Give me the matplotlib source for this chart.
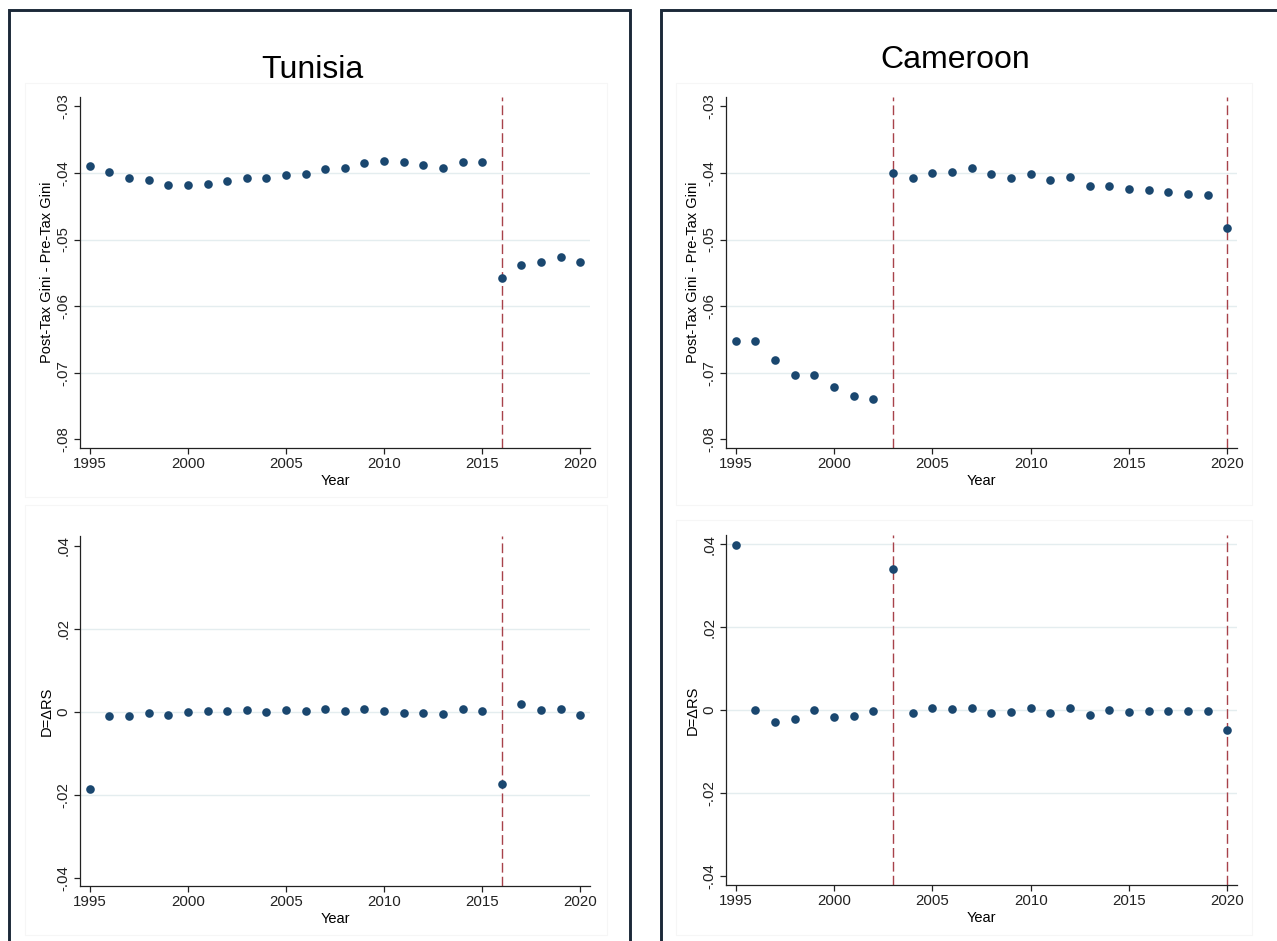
import matplotlib
matplotlib.use("Agg")
import matplotlib.pyplot as plt
from matplotlib.patches import Rectangle

plt.rcParams['font.family'] = ['Liberation Sans', 'DejaVu Sans']

years = list(range(1995, 2021))

tun_gap = [-0.0389, -0.0398, -0.0408, -0.0411, -0.0418, -0.0418, -0.0416, -0.0412,
           -0.0408, -0.0407, -0.0403, -0.0401, -0.0394, -0.0392, -0.0385, -0.0382,
           -0.0384, -0.0388, -0.0393, -0.0384, -0.0383, -0.0558, -0.0538, -0.0533,
           -0.0526, -0.0534]
tun_d = [-0.0185, -0.0010, -0.0010, -0.0003, -0.0007, 0.0000, 0.0001, 0.0003,
         0.0005, 0.0000, 0.0004, 0.0001, 0.0006, 0.0002, 0.0006, 0.0003,
         -0.0002, -0.0003, -0.0005, 0.0008, 0.0001, -0.0175, 0.0019, 0.0005,
         0.0006, -0.0007]
cam_gap = [-0.0653, -0.0653, -0.0681, -0.0703, -0.0703, -0.0721, -0.0735, -0.0739,
           -0.0400, -0.0407, -0.0400, -0.0398, -0.0393, -0.0401, -0.0407, -0.0402,
           -0.0410, -0.0406, -0.0419, -0.0420, -0.0424, -0.0426, -0.0428, -0.0432,
           -0.0433, -0.0482]
cam_d = [0.0397, 0.0000, -0.0028, -0.0021, 0.0000, -0.0018, -0.0015, -0.0003,
         0.0340, -0.0007, 0.0006, 0.0003, 0.0005, -0.0008, -0.0006, 0.0006,
         -0.0008, 0.0004, -0.0012, -0.0001, -0.0004, -0.0002, -0.0002, -0.0003,
         -0.0002, -0.0049]

tun_breaks = [2016]
cam_breaks = [2003, 2020]

xticks = [1995, 2000, 2005, 2010, 2015, 2020]
xticklabels = ["1995", "2000", "2005", "2010", "2015", "2020"]
gap_ticks = [-0.08, -0.07, -0.06, -0.05, -0.04, -0.03]
gap_ticklabels = ["-.08", "-.07", "-.06", "-.05", "-.04", "-.03"]
d_ticks = [-0.04, -0.02, 0.0, 0.02, 0.04]
d_ticklabels = ["-.04", "-.02", "0", ".02", ".04"]

titles = ["Tunisia", "Cameroon"]
gap_label = "Post-Tax Gini - Pre-Tax Gini"
d_label = "D=\u0394RS"
x_label = "Year"

W, H = 1277, 941
fig = plt.figure(figsize=(W / 100, H / 100), dpi=100)
fig.patch.set_facecolor('white')

NAVY = '#1a476f'
RED = '#a8424a'
GRID = '#e4edef'


def px_axes(l, t, r, b):
    return fig.add_axes([l / W, 1 - b / H, (r - l) / W, (b - t) / H])


def style(ax, yvals, ticks, ticklabels, grid_ticks, ylim, ylabel, breaks):
    ax.set_xlim(1994.5, 2020.5)
    ax.set_ylim(*ylim)
    for g in grid_ticks:
        ax.axhline(g, color=GRID, lw=1.0, zorder=0)
    for bk in breaks:
        ax.axvline(bk, color=RED, lw=1.0, ls=(0, (7, 3)), zorder=1)
    ax.plot(years, yvals, 'o', color=NAVY, markersize=6.2, markeredgewidth=0, zorder=3)
    ax.set_xticks(xticks)
    ax.set_xticklabels(xticklabels)
    ax.set_yticks(ticks)
    ax.set_yticklabels(ticklabels, rotation=90, va='center')
    ax.tick_params(direction='out', length=4, width=0.9, labelsize=10.8, pad=2.5, colors='#222222')
    ax.tick_params(axis='y', pad=3)
    for s in ['top', 'right']:
        ax.spines[s].set_visible(False)
    for s in ['left', 'bottom']:
        ax.spines[s].set_linewidth(0.9)
        ax.spines[s].set_color('#222222')
    ax.set_ylabel(ylabel, fontsize=10.5)
    ax.set_xlabel(x_label, fontsize=10.5)
    ax.set_facecolor('white')


# panel frames
fig.add_artist(Rectangle((9 / W, -0.05), (630 - 9) / W, 1.05 - 10 / H,
                         transform=fig.transFigure, fill=False, ec='#1b2838', lw=2.1))
fig.add_artist(Rectangle((661 / W, -0.05), 0.5, 1.05 - 10 / H,
                         transform=fig.transFigure, fill=False, ec='#1b2838', lw=2.1))

# very faint graph-region outlines
for (l, t, r, b) in [(25, 83, 607, 497), (25, 505, 607, 935),
                     (676, 83, 1252, 505), (676, 520, 1252, 935)]:
    fig.add_artist(Rectangle((l / W, 1 - b / H), (r - l) / W, (b - t) / H,
                             transform=fig.transFigure, fill=False, ec='#f6f6f6', lw=0.8))

ax1 = px_axes(80, 97, 590, 448)
style(ax1, tun_gap, gap_ticks, gap_ticklabels, [-0.07, -0.06, -0.05, -0.04],
      (-0.0813, -0.0286), gap_label, tun_breaks)
ax2 = px_axes(80, 536, 590, 886)
style(ax2, tun_d, d_ticks, d_ticklabels, [-0.02, 0.0, 0.02],
      (-0.0420, 0.0424), d_label, tun_breaks)
ax3 = px_axes(726, 97, 1237, 448)
style(ax3, cam_gap, gap_ticks, gap_ticklabels, [-0.07, -0.06, -0.05, -0.04],
      (-0.0813, -0.0286), gap_label, cam_breaks)
ax4 = px_axes(726, 535, 1237, 885)
style(ax4, cam_d, d_ticks, d_ticklabels, [-0.02, 0.0, 0.02, 0.04],
      (-0.0422, 0.0422), d_label, cam_breaks)

for ax in (ax1, ax2, ax3, ax4):
    ax.yaxis.set_label_coords(-(80 - 54) / 510, 0.5)
    ax.xaxis.set_label_coords(0.5, -(474 - 448) / 351)

fig.text(312 / W, 1 - 78 / H, titles[0], ha='center', va='baseline', fontsize=23)
fig.text(955 / W, 1 - 68 / H, titles[1], ha='center', va='baseline', fontsize=23)

fig.savefig('out.png', dpi=100, facecolor='white')
